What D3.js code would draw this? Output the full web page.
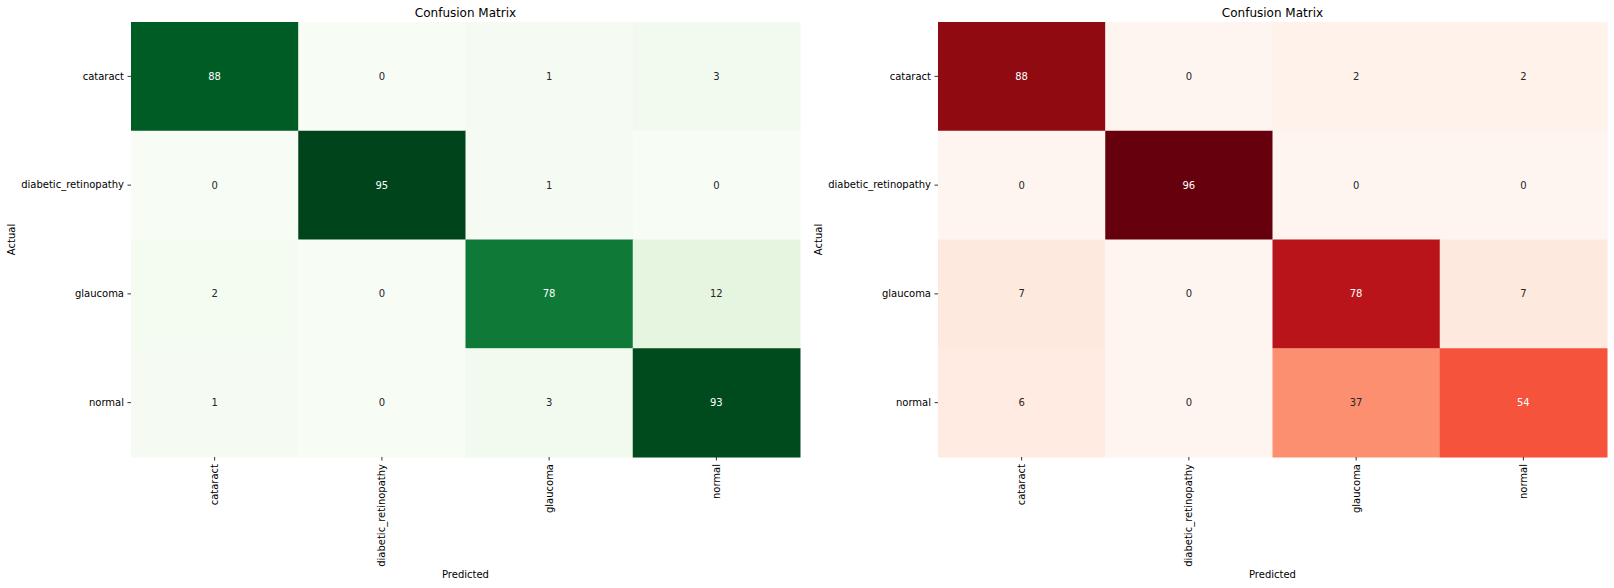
<!DOCTYPE html>
<html>
<head>
<meta charset="utf-8">
<script src="https://cdn.jsdelivr.net/npm/d3@7"></script>
<style>
  body { margin: 0; background: #fff; }
  svg { display: block; font-family: "DejaVu Sans", sans-serif; }
  svg text { font-family: "DejaVu Sans", sans-serif; }
  .tick text { font-size: 10px; fill: #000; }
  .tick line { stroke: #000; stroke-width: 0.8; }
</style>
</head>
<body>
<div id="chart"></div>
<script>
// class labels
var classes = ["cataract", "diabetic_retinopathy", "glaucoma", "normal"];
// left matrix (rows = actual, cols = predicted)
var greenMatrix = [
  [88, 0, 1, 3],
  [0, 95, 1, 0],
  [2, 0, 78, 12],
  [1, 0, 3, 93]
];
// right matrix
var redMatrix = [
  [88, 0, 2, 2],
  [0, 96, 0, 0],
  [7, 0, 78, 7],
  [6, 0, 37, 54]
];
// matplotlib colormap stops
var greens = ["#f7fcf5","#e5f5e0","#c7e9c0","#a1d99b","#74c476","#41ab5d","#238b45","#006d2c","#00441b"];
var reds = ["#fff5f0","#fee0d2","#fcbba1","#fc9272","#fb6a4a","#ef3b2c","#cb181d","#a50f15","#67000d"];

var W = 1614, H = 588;
var svg = d3.select("#chart").append("svg")
  .attr("width", W)
  .attr("height", H);

// seaborn picks the annotation colour from the cell luminance
function luminance(c) {
  var rgb = d3.rgb(c);
  var ch = [rgb.r, rgb.g, rgb.b].map(function (v) {
    v = v / 255;
    return v <= 0.03928 ? v / 12.92 : Math.pow((v + 0.055) / 1.055, 2.4);
  });
  return 0.2126 * ch[0] + 0.7152 * ch[1] + 0.0722 * ch[2];
}

function heatmap(left, matrix, stops) {
  var top = 22, width = 669, height = 435;
  var g = svg.append("g").attr("transform", "translate(" + left + "," + top + ")");

  var x = d3.scaleBand().domain(classes).range([0, width]);
  var y = d3.scaleBand().domain(classes).range([0, height]);

  var flat = d3.merge(matrix);
  var lo = d3.min(flat), hi = d3.max(flat);
  var color = d3.scaleLinear()
    .domain(stops.map(function (d, i) { return lo + (hi - lo) * i / (stops.length - 1); }))
    .range(stops)
    .interpolate(d3.interpolateRgb);

  var cells = [];
  matrix.forEach(function (row, i) {
    row.forEach(function (v, j) {
      cells.push({ actual: classes[i], predicted: classes[j], value: v });
    });
  });

  g.selectAll("rect")
    .data(cells)
    .enter()
    .append("rect")
    .attr("x", function (d) { return x(d.predicted); })
    .attr("y", function (d) { return y(d.actual); })
    .attr("width", x.bandwidth() + 0.5)
    .attr("height", y.bandwidth() + 0.5)
    .attr("fill", function (d) { return color(d.value); });

  g.selectAll("text.annot")
    .data(cells)
    .enter()
    .append("text")
    .attr("class", "annot")
    .attr("x", function (d) { return x(d.predicted) + x.bandwidth() / 2; })
    .attr("y", function (d) { return y(d.actual) + y.bandwidth() / 2; })
    .attr("text-anchor", "middle")
    .attr("dy", "0.35em")
    .attr("font-size", 10)
    .attr("fill", function (d) { return luminance(color(d.value)) > 0.408 ? "#262626" : "#fff"; })
    .text(function (d) { return d.value; });

  var yAxis = g.append("g")
    .call(d3.axisLeft(y).tickSize(3.5).tickPadding(3.5));
  yAxis.attr("font-family", null);
  yAxis.select(".domain").remove();

  var xAxis = g.append("g")
    .attr("transform", "translate(0," + height + ")")
    .call(d3.axisBottom(x).tickSize(3.5).tickPadding(3.5));
  xAxis.attr("font-family", null);
  xAxis.select(".domain").remove();
  xAxis.selectAll("text")
    .attr("transform", "rotate(-90)")
    .attr("text-anchor", "end")
    .attr("x", -7)
    .attr("y", 0)
    .attr("dy", "0.35em");

  g.append("text")
    .attr("x", width / 2)
    .attr("y", -5)
    .attr("text-anchor", "middle")
    .attr("font-size", 12)
    .text("Confusion Matrix");

  g.append("text")
    .attr("x", width / 2)
    .attr("y", 578 - top)
    .attr("text-anchor", "middle")
    .attr("font-size", 10)
    .text("Predicted");

  g.append("text")
    .attr("transform", "translate(-116," + height / 2 + ") rotate(-90)")
    .attr("text-anchor", "middle")
    .attr("font-size", 10)
    .text("Actual");
}

heatmap(131, greenMatrix, greens);
heatmap(938, redMatrix, reds);
</script>
</body>
</html>
